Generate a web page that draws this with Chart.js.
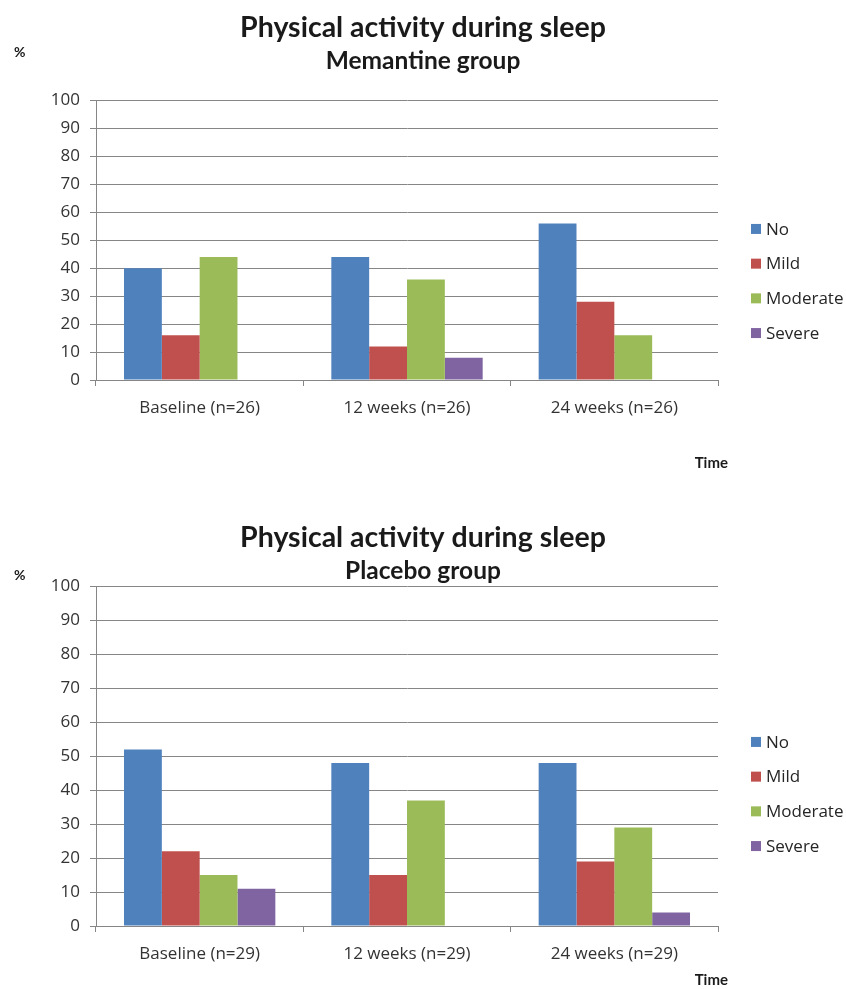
<!DOCTYPE html>
<html>
<head>
<meta charset="utf-8">
<script src="https://cdn.jsdelivr.net/npm/chart.js@4/dist/chart.umd.min.js"></script>
<style>
  html, body { margin: 0; padding: 0; background: #fff; }
  canvas { display: block; }
</style>
</head>
<body>
<canvas id="memantine" width="846" height="480"></canvas>
<canvas id="placebo" width="846" height="509"></canvas>
<script>
// Severity categories and percentages per visit
const seriesNames = ['No', 'Mild', 'Moderate', 'Severe'];
const seriesColors = ['#4F81BD', '#C0504D', '#9BBB59', '#8064A2'];

const memantineVisits = ['Baseline (n=26)', '12 weeks (n=26)', '24 weeks (n=26)'];
const memantineNo = [40, 44, 56];
const memantineMild = [16, 12, 28];
const memantineModerate = [44, 36, 16];
const memantineSevere = [0, 8, 0];

const placeboVisits = ['Baseline (n=29)', '12 weeks (n=29)', '24 weeks (n=29)'];
const placeboNo = [52, 48, 48];
const placeboMild = [22, 15, 19];
const placeboModerate = [15, 37, 29];
const placeboSevere = [11, 0, 4];

const yMin = 0, yMax = 100, yStep = 10;

const mainTitle = 'Physical activity during sleep';
const axisColor = '#868686';
const textColor = '#333333';
const FONT = "'Open Sans', 'Noto Sans', sans-serif";
const TITLE_FONT = "Lato, 'Open Sans', sans-serif";
const LEGEND_WIDTH = 128;

// Reserves a column on the right of the plot for the legend,
// while the titles keep spanning the full width
const legendColumnPlugin = {
  id: 'legendColumn',
  beforeInit(chart) {
    const box = {
      position: 'right',
      weight: 1000,
      fullSize: false,
      options: { stackWeight: 1 },
      left: 0, top: 0, right: 0, bottom: 0, width: 0, height: 0,
      isHorizontal() { return false; },
      update(maxWidth, maxHeight) {
        this.width = LEGEND_WIDTH;
        this.height = maxHeight;
      },
      getPadding() { return { left: 0, top: 0, right: 0, bottom: 0 }; },
      draw() {}
    };
    Chart.layouts.addBox(chart, box);
  },
  // "%" unit label, legend entries and the "Time" axis caption
  afterDraw(chart, args, opts) {
    const ctx = chart.ctx;
    const area = chart.chartArea;
    ctx.save();
    ctx.fillStyle = '#1a1a1a';
    ctx.font = 'bold 14px ' + TITLE_FONT;
    ctx.textAlign = 'left';
    ctx.textBaseline = 'middle';
    ctx.fillText('%', 14, opts.unitY);

    ctx.textAlign = 'right';
    ctx.font = 'bold 15px ' + TITLE_FONT;
    ctx.fillText('Time', area.right + 10, opts.timeY);

    const sets = chart.data.datasets;
    const step = 34.7;
    const first = opts.legendCenterY - step * (sets.length - 1) / 2;
    const bx = area.right + 33;
    ctx.textAlign = 'left';
    ctx.font = '17px ' + FONT;
    sets.forEach((ds, i) => {
      const cy = first + i * step;
      ctx.fillStyle = ds.backgroundColor;
      ctx.fillRect(bx, cy - 5, 10, 10);
      ctx.fillStyle = '#262626';
      ctx.fillText(ds.label, bx + 15, cy + 1);
    });
    ctx.restore();
  }
};

function buildChart(id, visits, values, subtitle, geo) {
  const datasets = seriesNames.map((name, i) => ({
    label: name,
    data: values[i],
    backgroundColor: seriesColors[i],
    borderWidth: 0,
    barPercentage: 1,
    categoryPercentage: 0.73
  }));
  return new Chart(document.getElementById(id), {
    type: 'bar',
    data: { labels: visits, datasets },
    plugins: [legendColumnPlugin],
    options: {
      responsive: false,
      animation: false,
      devicePixelRatio: 1,
      layout: { padding: { left: 0, right: 0, top: 0, bottom: geo.bottomPad } },
      plugins: {
        legend: { display: false },
        tooltip: { enabled: false },
        title: {
          display: true,
          text: mainTitle,
          color: '#1a1a1a',
          font: { family: TITLE_FONT, size: 28.5, weight: 'bold' },
          padding: { top: geo.titleTop, bottom: geo.titleBottom }
        },
        subtitle: {
          display: true,
          text: subtitle,
          color: '#1a1a1a',
          font: { family: TITLE_FONT, size: 24.5, weight: 'bold' },
          padding: { top: 0, bottom: geo.subBottom }
        },
        legendColumn: { unitY: geo.unitY, legendCenterY: geo.legendCenterY, timeY: geo.timeY }
      },
      scales: {
        x: {
          offset: true,
          grid: { display: true, offset: true, drawOnChartArea: false, drawTicks: true, tickLength: 6, color: axisColor },
          border: { display: true, color: axisColor },
          ticks: { color: textColor, font: { family: FONT, size: 17 }, padding: 12, maxRotation: 0 },
          afterFit(scale) { scale.height = geo.xHeight; }
        },
        y: {
          min: yMin, max: yMax,
          grid: { color: axisColor, tickLength: 6, drawTicks: true },
          border: { display: true, color: axisColor },
          ticks: { stepSize: yStep, color: textColor, font: { family: FONT, size: 17 }, padding: 10 },
          afterFit(scale) { scale.width = 96; }
        }
      }
    }
  });
}

buildChart('memantine', memantineVisits,
  [memantineNo, memantineMild, memantineModerate, memantineSevere],
  'Memantine group',
  { titleTop: 11, titleBottom: 1, subBottom: 25, bottomPad: 8, xHeight: 92, unitY: 52, legendCenterY: 281, timeY: 463 });

buildChart('placebo', placeboVisits,
  [placeboNo, placeboMild, placeboModerate, placeboSevere],
  'Placebo group',
  { titleTop: 41, titleBottom: 1, subBottom: 1, bottomPad: 0, xHeight: 63, unitY: 95, legendCenterY: 314, timeY: 500 });
</script>
</body>
</html>
